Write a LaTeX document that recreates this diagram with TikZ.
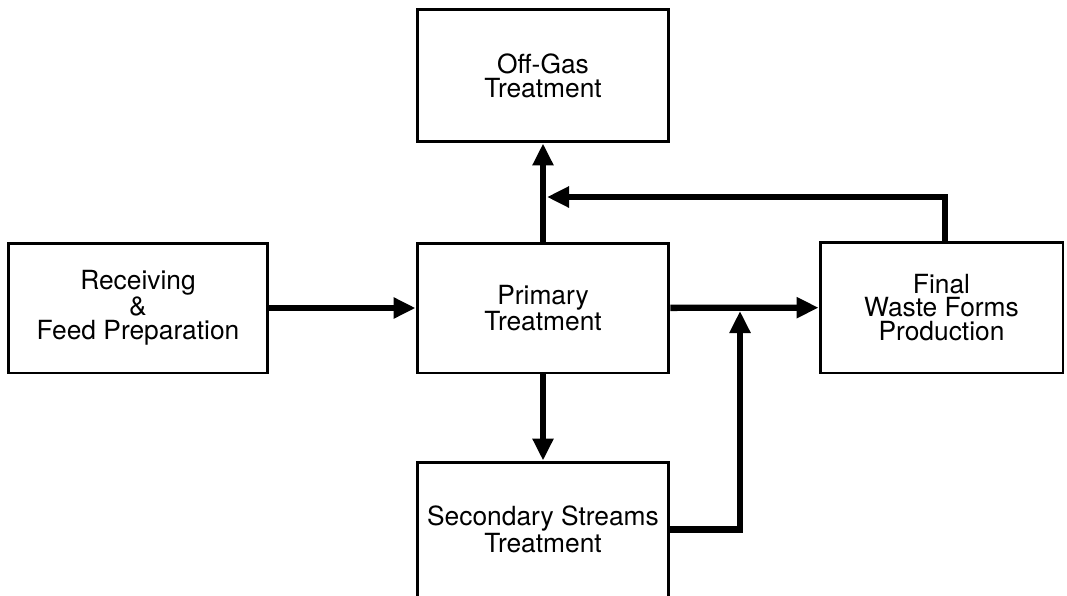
\documentclass[tikz,border=0pt]{standalone}
\usepackage{fontspec}
\setmainfont{TeX Gyre Heros}
\usepackage{tikz}
\usetikzlibrary{arrows.meta,positioning}
\tikzset{
    process/.style={
    rectangle,draw=black,line width=1.7pt,align=center,
    font=\fontsize{15}{13.6}\selectfont,inner sep=0pt
    },
    flow/.style={
    line width=3.6pt,-{Triangle[length=0.44cm,width=0.4cm]}
    },
}

\begin{document}
\begin{tikzpicture}[x=0.02cm, y=-0.02cm]
   \useasboundingbox (0,0) rectangle (1067,595);
   \clip (0,0) rectangle (1067,595);

   %boxes
   \node[process,minimum width=5.04cm,minimum height=2.66cm] (off) at (543,75.5) {Off-Gas\\Treatment};
   \node[process,minimum width=5.2cm,minimum height=2.6cm] (rec) at (138,308) {Receiving\\\&\\Feed Preparation};
   \node[process,minimum width=5.04cm,minimum height=2.6cm] (prim) at (543,308) {Primary\\Treatment};
   \node[process,minimum width=4.86cm,minimum height=2.62cm] (fin) at (941.5,307.5) {Final\\Waste Forms\\Production};
   \node[process,minimum width=5.04cm,minimum height=2.7cm] (sec) at (543,529.5) {Secondary Streams\\Treatment};

   %junctions
   \coordinate (j1) at (547,197);
   \coordinate (j2) at (740,311);

   \draw[flow] (rec) -- (prim);
   \draw[flow] (prim) -- (off);
   \draw[flow] (prim) -- (fin);
   \draw[flow] (prim) -- (sec);

   %recycle and secondary return
   \draw[flow] ([xshift=0.07cm]fin.north) |- (j1);
   \draw[flow] (sec.east) -| (j2);
\end{tikzpicture}
\end{document}
